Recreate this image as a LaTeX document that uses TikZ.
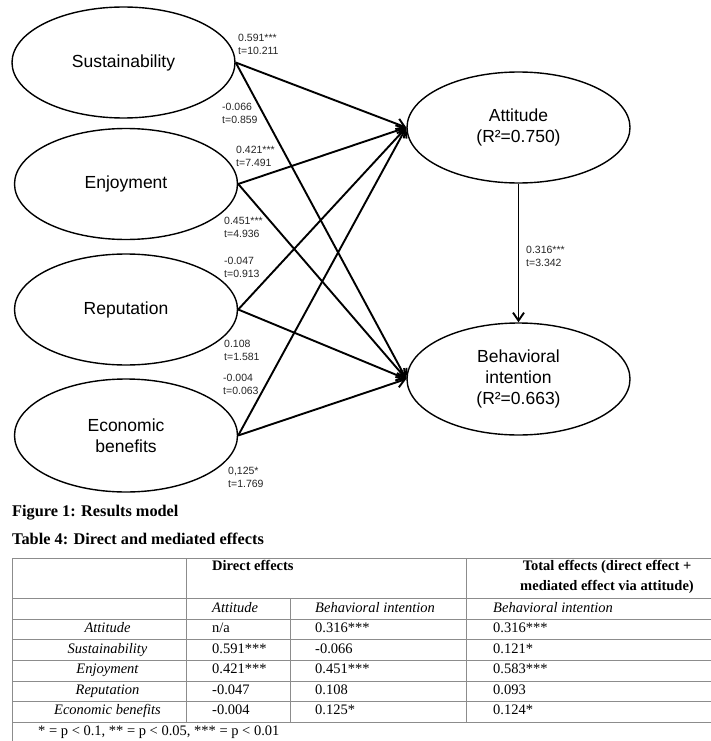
\documentclass[tikz,border=0pt]{standalone}
\usepackage{fontspec}
\setmainfont{Liberation Serif}
\newfontfamily\arialf{Liberation Sans}
\usetikzlibrary{shapes.geometric,arrows.meta}
\begin{document}
\begin{tikzpicture}[x=1pt,y=-1pt,
  construct/.style={draw,line width=1.4pt,ellipse,minimum width=223pt,minimum height=111pt,inner sep=0pt,align=center,font=\arialf\fontsize{17.5}{21}\selectfont},
  conn/.style={line width=1.9pt,-{Straight Barb[length=8pt,width=11pt]}},
  coef/.style={anchor=west,align=left,inner sep=0pt,font=\arialf\fontsize{10.5}{12.8}\selectfont,text=black!85},
  tline/.style={draw=black!45,line width=0.9pt},
  cell/.style={anchor=west,inner sep=0pt,text height=10pt,text depth=3pt,font=\fontsize{14.5}{17}\selectfont},
  rowlab/.style={anchor=center,inner sep=0pt,text height=10pt,text depth=3pt,font=\fontsize{14.5}{17}\selectfont\itshape},
  capt/.style={anchor=base west,inner sep=0pt,font=\fontsize{16.3}{19}\selectfont\bfseries}]
\useasboundingbox (0,0) rectangle (711,741);
\fill[white] (0,0) rectangle (711,741);

% constructs
\node[construct] (sus) at (123.5,62.5) {Sustainability};
\node[construct] (enj) at (126,184) {Enjoyment};
\node[construct] (rep) at (126,309.5) {Reputation};
\node[construct,minimum height=113pt] (eco) at (126,435.5) {Economic\\benefits};
\node[construct] (att) at (518.5,127.5) {Attitude\\(R²=0.750)};
\node[construct,minimum height=112pt] (bi) at (518.5,379) {Behavioral\\intention\\(R²=0.663)};

% paths
\draw[conn] (sus.east) -- (att.west);
\draw[conn] (sus.east) -- (bi.west);
\draw[conn] (enj.east) -- (att.west);
\draw[conn] (enj.east) -- (bi.west);
\draw[conn] (rep.east) -- (att.west);
\draw[conn] (rep.east) -- (bi.west);
\draw[conn] (eco.east) -- (att.west);
\draw[conn] (eco.east) -- (bi.west);
\draw[conn] (att.south) -- (bi.north);

% coefficients
\node[coef] (c1) at (238,44.5) {0.591***\\t=10.211};
\node[coef] (c2) at (222,113) {-0.066\\t=0.859};
\node[coef] (c3) at (236,156) {0.421***\\t=7.491};
\node[coef] (c4) at (224,227.5) {0.451***\\t=4.936};
\node[coef] (c5) at (224,267) {-0.047\\t=0.913};
\node[coef] (c6) at (224,350.5) {0.108\\t=1.581};
\node[coef] (c7) at (223,384) {-0.004\\t=0.063};
\node[coef] (c8) at (228,477) {0,125*\\t=1.769};
\node[coef] (c9) at (526,256.5) {0.316***\\t=3.342};

% captions
\node[capt] (fig) at (12,516) {Figure 1: Results model};
\node[capt] (tab) at (12,544) {Table 4: Direct and mediated effects};

% table lines
\foreach \yy in {558,598,619,639,660,681,701,722}
  \draw[tline] (12,\yy) -- (711,\yy);
\draw[tline] (12,558) -- (12,741);
\draw[tline] (186,558) -- (186,722);
\draw[tline] (290,598) -- (290,722);
\draw[tline] (466,558) -- (466,722);

% table header
\node[cell,font=\fontsize{14.5}{17}\selectfont\bfseries] (h1) at (212,567) {Direct effects};
\node[anchor=center,inner sep=0pt,align=center,font=\fontsize{14.5}{20}\selectfont\bfseries] (h2) at (607,577) {Total effects (direct effect +\\mediated effect via attitude)};
\node[cell,font=\fontsize{14.5}{17}\selectfont\itshape] (s1) at (212,608.5) {Attitude};
\node[cell,font=\fontsize{14.5}{17}\selectfont\itshape] (s2) at (315,608.5) {Behavioral intention};
\node[cell,font=\fontsize{14.5}{17}\selectfont\itshape] (s3) at (493,608.5) {Behavioral intention};

% rows
\node[rowlab] (r1) at (107.5,629) {Attitude};
\node[cell] (r1a) at (212,629) {n/a};
\node[cell] (r1b) at (315,629) {0.316***};
\node[cell] (r1c) at (493,629) {0.316***};

\node[rowlab] (r2) at (107.5,649.5) {Sustainability};
\node[cell] (r2a) at (212,649.5) {0.591***};
\node[cell] (r2b) at (315,649.5) {-0.066};
\node[cell] (r2c) at (493,649.5) {0.121*};

\node[rowlab] (r3) at (107.5,670) {Enjoyment};
\node[cell] (r3a) at (212,670) {0.421***};
\node[cell] (r3b) at (315,670) {0.451***};
\node[cell] (r3c) at (493,670) {0.583***};

\node[rowlab] (r4) at (107.5,690.5) {Reputation};
\node[cell] (r4a) at (212,690.5) {-0.047};
\node[cell] (r4b) at (315,690.5) {0.108};
\node[cell] (r4c) at (493,690.5) {0.093};

\node[rowlab] (r5) at (107.5,711) {Economic benefits};
\node[cell] (r5a) at (212,711) {-0.004};
\node[cell] (r5b) at (315,711) {0.125*};
\node[cell] (r5c) at (493,711) {0.124*};

\node[cell] (fn) at (38,732) {* = p < 0.1, ** = p < 0.05, *** = p < 0.01};
\end{tikzpicture}
\end{document}
